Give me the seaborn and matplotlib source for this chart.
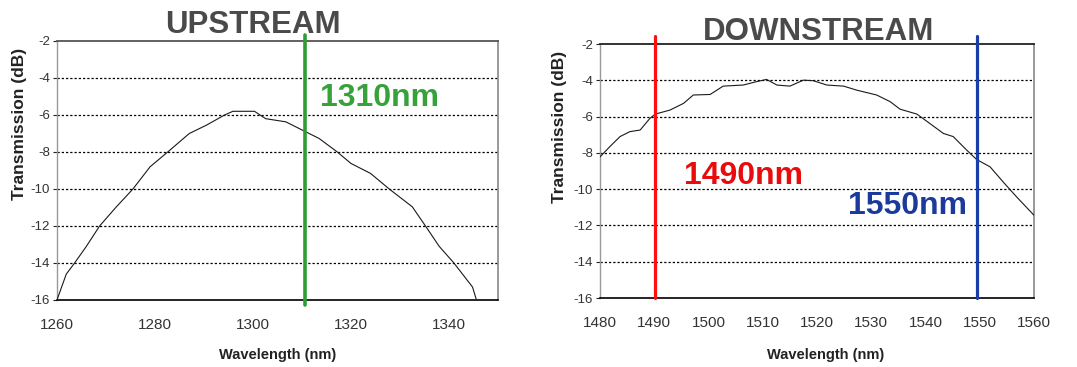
import matplotlib
matplotlib.use("Agg")
import matplotlib.pyplot as plt
import seaborn as sns
import pandas as pd

# ---------------- data ----------------
up_wavelength = [1260, 1261.9, 1263.6, 1266, 1268.7, 1272, 1275.5, 1279, 1282.6, 1287,
                 1290.5, 1294.2, 1295.9, 1300.3, 1302.6, 1306.7, 1310.7, 1313.5, 1317.2,
                 1320, 1324, 1327.8, 1332.5, 1335.2, 1338, 1341, 1344.8, 1345.6]
up_transmission = [-16, -14.6, -14, -13.1, -12, -11.0, -10, -8.8, -8, -7.0,
                   -6.55, -6, -5.8, -5.8, -6.2, -6.37, -6.9, -7.27, -8,
                   -8.62, -9.16, -10, -10.96, -12, -13.1, -14, -15.3, -16]

down_wavelength = [1480, 1481.8, 1483.7, 1485.5, 1487.4, 1489.2, 1490.2, 1492.9, 1495.4,
                   1497.2, 1500.3, 1502.7, 1506.4, 1508.9, 1510.7, 1512.6, 1515, 1517.5,
                   1519.3, 1521.8, 1524.9, 1527.3, 1531, 1533.5, 1535.3, 1538.4, 1540.8,
                   1543.3, 1545.1, 1547.6, 1549.4, 1551.9, 1554.3, 1556.8, 1560]
down_transmission = [-8.22, -7.66, -7.1, -6.83, -6.74, -6.1, -5.86, -5.64, -5.27,
                     -4.81, -4.78, -4.32, -4.26, -4.07, -3.95, -4.26, -4.32, -3.99,
                     -4.02, -4.26, -4.32, -4.54, -4.81, -5.18, -5.59, -5.86, -6.38,
                     -6.93, -7.1, -7.85, -8.36, -8.77, -9.6, -10.43, -11.44]

titles = ["UPSTREAM", "DOWNSTREAM"]
up_marker_wl = [1310.6]
up_marker_labels = ["1310nm"]
down_marker_wl = [1490.2, 1549.5]
down_marker_labels = ["1490nm", "1550nm"]

y_ticks = [-2, -4, -6, -8, -10, -12, -14, -16]
up_x_ticks = [1260, 1280, 1300, 1320, 1340]
down_x_ticks = [1480, 1490, 1500, 1510, 1520, 1530, 1540, 1550, 1560]

# ---------------- style ----------------
sns.set_style("white")
plt.rcParams["font.family"] = ["Liberation Sans", "DejaVu Sans"]
plt.rcParams["axes.unicode_minus"] = False

fig = plt.figure(figsize=(10.77, 3.67), dpi=100)
ax1 = fig.add_axes([0.0529, 0.1826, 0.4095, 0.7057])
ax2 = fig.add_axes([0.5571, 0.188, 0.403, 0.692])

up_df = pd.DataFrame({"Wavelength": up_wavelength, "Transmission": up_transmission})
down_df = pd.DataFrame({"Wavelength": down_wavelength, "Transmission": down_transmission})

sns.lineplot(data=up_df, x="Wavelength", y="Transmission", ax=ax1,
             color="#1a1a1a", lw=0.8, zorder=3)
sns.lineplot(data=down_df, x="Wavelength", y="Transmission", ax=ax2,
             color="#1a1a1a", lw=0.8, zorder=3)

for ax, xt, xl in [(ax1, up_x_ticks, (1260, 1350)), (ax2, down_x_ticks, (1480, 1560))]:
    ax.set_xlim(*xl)
    ax.set_ylim(-16, -2)
    ax.set_xticks(xt)
    ax.set_yticks(y_ticks)
    ax.set_xticklabels([str(v) for v in xt], fontsize=11, color="#333333")
    ax.set_yticklabels([str(v) for v in y_ticks], fontsize=9.5, color="#333333")
    ax.tick_params(axis="x", direction="in", length=4, width=0.8, color="#444444", pad=13)
    ax.tick_params(axis="y", direction="out", length=3, width=0.8, color="#222222", pad=2, left=True)
    for v in y_ticks[1:-1]:
        ax.axhline(v, color="black", lw=0.9, ls=(0, (1.8, 1.6)), zorder=1)
    ax.spines["bottom"].set_color("black")
    ax.spines["bottom"].set_linewidth(1.2)
    ax.spines["left"].set_color("#999999")
    ax.spines["left"].set_linewidth(1.0)
    ax.spines["right"].set_color("#888888")
    ax.spines["right"].set_linewidth(1.2)
    ax.spines["top"].set_linewidth(1.3)
    for s in ax.spines.values():
        s.set_visible(True)
    ax.set_xlabel("Wavelength (nm)", fontsize=10.5, fontweight="bold", color="#222222", va="center")
    ax.set_ylabel("Transmission (dB)", fontsize=12.5, fontweight="bold", color="#222222", va="center")

ax1.spines["top"].set_color("#555555")
ax2.spines["top"].set_color("#222222")

ax1.xaxis.set_label_coords(0.5, -0.212)
ax2.xaxis.set_label_coords(0.52, -0.224)
ax1.yaxis.set_label_coords(-0.086, 0.68)
ax2.yaxis.set_label_coords(-0.094, 0.673)

# marker lines
ax1.axvline(up_marker_wl[0], ymin=-0.019, ymax=1.023, color="#2e9e34", lw=2.6,
            clip_on=False, zorder=4)
ax2.axvline(down_marker_wl[0], ymin=0, ymax=1.031, color="#ff1010", lw=2.3,
            clip_on=False, zorder=4)
ax2.axvline(down_marker_wl[1], ymin=0, ymax=1.031, color="#1a3ea8", lw=2.3,
            clip_on=False, zorder=4)

ax1.text(1313.7, -5.53, up_marker_labels[0], color="#37a13a", fontsize=23,
         fontweight="bold", va="baseline", ha="left", zorder=5)
ax2.text(1495.4, -9.69, down_marker_labels[0], color="#e80c0c", fontsize=23,
         fontweight="bold", va="baseline", ha="left", zorder=5)
ax2.text(1525.8, -11.35, down_marker_labels[1], color="#1a3a9c", fontsize=23,
         fontweight="bold", va="baseline", ha="left", zorder=5)

fig.text(253 / 1077, 1 - 33 / 367, titles[0], fontsize=22.5, fontweight="bold",
         color="#4a4a4a", ha="center", va="baseline")
fig.text(819 / 1077, 1 - 40 / 367, titles[1], fontsize=22.5, fontweight="bold",
         color="#4a4a4a", ha="center", va="baseline")

fig.savefig("out.png", dpi=100, facecolor="white")
